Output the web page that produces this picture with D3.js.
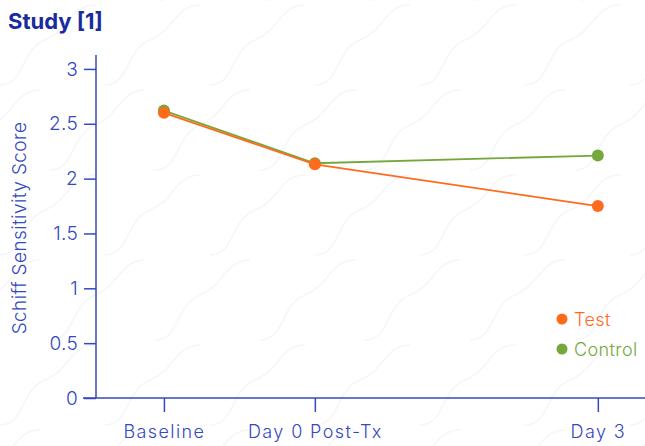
<!DOCTYPE html>
<html>
<head>
<meta charset="utf-8">
<script src="https://cdn.jsdelivr.net/npm/d3@7"></script>
<style>
  body { margin: 0; background: #fff; }
  svg { font-family: "Inter", "Noto Sans", sans-serif; }
</style>
</head>
<body>
<div class="chart"></div>
<script>
// time points (day values, baseline placed before day 0)
var categories = ["Baseline", "Day 0 Post-Tx", "Day 3"];
var dayValues = [-1.6, 0, 3];
var testValues = [2.60, 2.13, 1.75];
var controlValues = [2.62, 2.14, 2.21];
var yTicks = [0, 0.5, 1, 1.5, 2, 2.5, 3];

var orange = "#ff6b1c",
    green = "#75a83c",
    blue = "#3448c0",
    navy = "#1a2b9e";

var width = 645, height = 446;

var svg = d3.select(".chart")
  .append("svg")
  .attr("width", width)
  .attr("height", height);

// faint wave pattern in the background
var bg = svg.append("g").attr("class", "bg");
for (var r = -1; r < 6; r++) {
  for (var c = -1; c < 7; c++) {
    var ox = c * 105 + (r % 2) * 50, oy = r * 85;
    bg.append("path")
      .attr("d", "M" + ox + "," + (oy + 85) + " C" + (ox + 25) + "," + (oy + 85) + " " + (ox + 20) + "," + (oy + 50) + " " + (ox + 45) + "," + (oy + 40)
        + " S" + (ox + 70) + "," + (oy + 5) + " " + (ox + 95) + "," + (oy + 5))
      .attr("fill", "none")
      .attr("stroke", "#f6f6f6")
      .attr("stroke-width", 1.5);
  }
}

var x = d3.scaleLinear().domain([-2.32, 3.5]).range([96, 645]);
var y = d3.scaleLinear().domain([0, 3.127]).range([398, 55]);

// title
svg.append("text")
  .attr("x", 8)
  .attr("y", 29)
  .attr("fill", navy)
  .attr("font-size", 22)
  .attr("font-weight", 700)
  .text("Study [1]");

// y axis
var yAxis = svg.append("g")
  .attr("transform", "translate(96,0)")
  .call(d3.axisLeft(y).tickValues(yTicks).tickSize(12).tickPadding(6).tickFormat(d3.format("")));
yAxis.select(".domain").attr("stroke", blue).attr("stroke-width", 1.5).attr("d", "M0," + y(3.127) + "V" + y(0));
yAxis.selectAll(".tick line").attr("stroke", blue).attr("stroke-width", 1.5);
yAxis.selectAll(".tick text").attr("fill", blue).attr("font-size", 19).attr("font-weight", 300)
  .attr("font-family", "Inter").attr("letter-spacing", 0.3);

// x axis
var xAxis = svg.append("g")
  .attr("transform", "translate(0,398)")
  .call(d3.axisBottom(x).tickValues(dayValues).tickSize(14).tickPadding(13)
    .tickFormat(function(d, i) { return categories[i]; }));
xAxis.select(".domain").attr("stroke", blue).attr("stroke-width", 1.5).attr("d", "M83,0H645");
xAxis.selectAll(".tick line").attr("stroke", blue).attr("stroke-width", 1.5);
xAxis.selectAll(".tick text").attr("fill", blue).attr("font-size", 18).attr("font-weight", 300)
  .attr("font-family", "Inter").attr("letter-spacing", 1.4);

// y axis label
svg.append("text")
  .attr("transform", "translate(26,228) rotate(-90)")
  .attr("text-anchor", "middle")
  .attr("fill", blue)
  .attr("font-size", 19)
  .attr("font-weight", 300)
  .attr("letter-spacing", 0.4)
  .text("Schiff Sensitivity Score");

var line = d3.line()
  .x(function(d, i) { return x(dayValues[i]); })
  .y(function(d) { return y(d); });

var series = [
  {name: "Control", values: controlValues, color: green},
  {name: "Test", values: testValues, color: orange}
];

series.forEach(function(s) {
  svg.append("path")
    .datum(s.values)
    .attr("d", line)
    .attr("fill", "none")
    .attr("stroke", s.color)
    .attr("stroke-width", 1.8);
  svg.selectAll(".dot-" + s.name)
    .data(s.values)
    .enter().append("circle")
    .attr("cx", function(d, i) { return x(dayValues[i]); })
    .attr("cy", function(d) { return y(d); })
    .attr("r", 6)
    .attr("fill", s.color);
});

// legend
var legend = svg.append("g").attr("transform", "translate(562,319)");
[{name: "Test", color: orange}, {name: "Control", color: green}].forEach(function(s, i) {
  legend.append("circle").attr("cx", 0).attr("cy", i * 30).attr("r", 5.5).attr("fill", s.color);
  legend.append("text")
    .attr("x", 12).attr("y", i * 30 + 7)
    .attr("fill", s.color)
    .attr("font-size", 18)
    .attr("font-weight", 300)
    .attr("letter-spacing", 0.4)
    .text(s.name);
});
</script>
</body>
</html>
